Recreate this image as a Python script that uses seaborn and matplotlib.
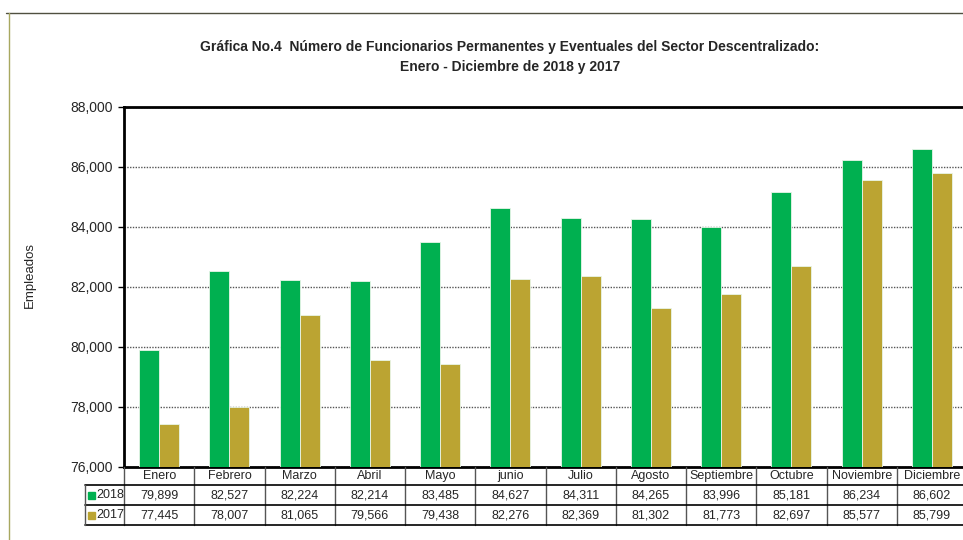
import pandas as pd
import matplotlib
matplotlib.use("Agg")
import matplotlib.pyplot as plt
import matplotlib.transforms as mtransforms
from matplotlib.lines import Line2D
from matplotlib.patches import Rectangle
import seaborn as sns

# Data
months = ["Enero", "Febrero", "Marzo", "Abril", "Mayo", "junio", "Julio",
          "Agosto", "Septiembre", "Octubre", "Noviembre", "Diciembre"]
values_2018 = [79899, 82527, 82224, 82214, 83485, 84627, 84311,
               84265, 83996, 85181, 86234, 86602]
values_2017 = [77445, 78007, 81065, 79566, 79438, 82276, 82369,
               81302, 81773, 82697, 85577, 85799]
years = ["2018", "2017"]
colors = {"2018": "#00B050", "2017": "#BBA432"}

df = pd.DataFrame({
    "Mes": months * 2,
    "Año": ["2018"] * 12 + ["2017"] * 12,
    "Empleados": values_2018 + values_2017,
})

sns.set_style("white")
plt.rcParams["font.family"] = ["Liberation Sans", "DejaVu Sans"]

W, H = 963, 540
fig = plt.figure(figsize=(W / 100, H / 100), dpi=100)

# plot area in pixels
left_px, right_px, top_px, bot_px = 124, 967, 107, 467
ax = fig.add_axes([left_px / W, 1 - bot_px / H,
                   (right_px - left_px) / W, (bot_px - top_px) / H])

sns.barplot(data=df, x="Mes", y="Empleados", hue="Año", hue_order=years,
            palette=colors, saturation=1, width=0.57, gap=0,
            edgecolor="#e8f5e8", linewidth=0.6, ax=ax, legend=False, zorder=3)

ax.set_ylim(76000, 88000)
ax.set_xlim(-0.5, 11.5)
ax.set_yticks(range(76000, 88001, 2000))
ax.set_yticklabels([f"{v:,}" for v in range(76000, 88001, 2000)], fontsize=10)
ax.set_xticks([])
ax.set_xlabel("")
ax.set_ylabel("")
ax.tick_params(axis="y", length=4, width=1, color="black", left=True, pad=4)
ax.yaxis.grid(True, linestyle=(0, (1, 1)), color="#555555", linewidth=1)
ax.set_axisbelow(True)
for side in ["left", "bottom", "top"]:
    ax.spines[side].set_visible(True)
    ax.spines[side].set_color("black")
    ax.spines[side].set_linewidth(2)
ax.spines["right"].set_visible(False)

fig.text(30 / W, 1 - 275 / H, "Empleados", rotation=90, ha="center",
         va="center", fontsize=9.5)

# title
fig.text(510 / W, 1 - 47 / H,
         "Gráfica No.4  Número de Funcionarios Permanentes y Eventuales del Sector Descentralizado:",
         ha="center", va="center", fontsize=10, fontweight="bold")
fig.text(510 / W, 1 - 67 / H, "Enero - Diciembre de 2018 y 2017",
         ha="center", va="center", fontsize=10, fontweight="bold")

# outer frame
fig.add_artist(Line2D([6 / W, 1], [1 - 13 / H] * 2, transform=fig.transFigure,
                      color="#505040", lw=1))
fig.add_artist(Line2D([9 / W] * 2, [0, 1 - 13 / H], transform=fig.transFigure,
                      color="#a8a860", lw=1))

# data table below the axis
trans = mtransforms.blended_transform_factory(ax.transData, fig.transFigure)
row_y = [467, 485, 505, 525]
fy = lambda p: 1 - p / H
label_left = 85

# header row cells: labels and separators
for i, m in enumerate(months):
    fig.text(i, fy(476), m, transform=trans, ha="center", va="center", fontsize=9)
for i in range(13):
    fig.add_artist(Line2D([i - 0.5] * 2, [fy(467), fy(525)], transform=trans,
                          color="#555555", lw=1))
# horizontal lines
for y in row_y[1:]:
    fig.add_artist(Line2D([label_left / W, 1], [fy(y)] * 2,
                          transform=fig.transFigure, color="black", lw=1.2))
fig.add_artist(Line2D([label_left / W] * 2, [fy(485), fy(525)],
                      transform=fig.transFigure, color="#555555", lw=1))

for r, (yr, vals) in enumerate([("2018", values_2018), ("2017", values_2017)]):
    yc = (row_y[r + 1] + row_y[r + 2]) / 2
    fig.add_artist(Rectangle((88 / W, fy(yc + 3.5)), 7 / W, 7 / H,
                             transform=fig.transFigure, color=colors[yr]))
    fig.text(96 / W, fy(yc), yr, ha="left", va="center", fontsize=9)
    for i, v in enumerate(vals):
        fig.text(i, fy(yc), f"{v:,}", transform=trans, ha="center",
                 va="center", fontsize=9)

fig.savefig("out.png", dpi=100)
